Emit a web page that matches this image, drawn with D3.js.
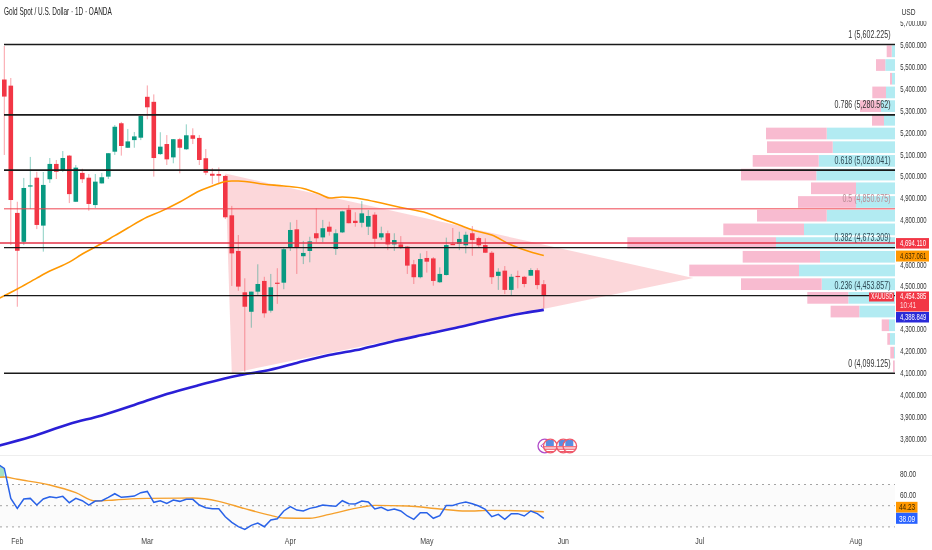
<!DOCTYPE html>
<html>
<head>
<meta charset="utf-8">
<script src="https://cdn.jsdelivr.net/npm/d3@7"></script>
<style>
  html, body { margin: 0; padding: 0; background: #fff; }
  svg { display: block; font-family: "Liberation Sans", Arial, sans-serif; filter: blur(0.3px); }
</style>
</head>
<body>
<svg id="chart" width="932" height="550"></svg>
<script>
// daily candles
const opens = [5442,5414,4832,4700,4955,4993,4774,4986,5056,5025,5094,4883,5015,4993,4868,4967,4998,5112,5242,5130,5165,5176,5363,5340,5101,5147,5086,5169,5123,5187,5175,5082,5011,5010,5001,4821,4658,4469,4380,4472,4521,4385,4513,4513,4673,4757,4634,4658,4739,4720,4769,4667,4743,4847,4796,4787,4769,4824,4720,4739,4688,4688,4678,4597,4538,4626,4624,4515,4548,4690,4690,4684,4739,4717,4685,4650,4544,4568,4480,4544,4540,4545,4570,4506];
const highs = [5595,5449,4883,4992,5088,5020,5019,5083,5074,5115,5097,5051,5034,5010,5010,5015,5106,5234,5248,5216,5202,5280,5415,5374,5201,5188,5170,5175,5237,5219,5188,5124,5037,5040,5005,4864,4731,4533,4472,4597,4540,4553,4579,4672,4789,4800,4704,4723,4853,4800,4792,4757,4842,4868,4835,4886,4845,4835,4769,4751,4739,4726,4681,4617,4647,4658,4630,4583,4719,4763,4746,4746,4772,4723,4716,4658,4579,4589,4553,4568,4544,4579,4579,4525];
const lows = [5097,4685,4403,4685,4850,4758,4655,4969,4987,5019,4877,4882,4969,4842,4854,4966,4987,5097,5094,5129,5130,5165,5260,4998,5097,5051,5059,5013,5120,5147,5051,5005,4964,4964,4804,4498,4476,4106,4307,4457,4353,4376,4416,4483,4658,4553,4598,4606,4698,4698,4728,4640,4740,4784,4769,4766,4731,4675,4708,4662,4658,4667,4553,4507,4533,4559,4499,4512,4546,4685,4662,4647,4636,4676,4649,4507,4480,4461,4452,4487,4492,4544,4483,4396];
const closes = [5364,4891,4659,4946,4958,4777,4960,5056,5020,5083,4918,5039,4986,4873,4975,4995,5105,5226,5138,5159,5182,5275,5315,5083,5135,5077,5169,5130,5187,5171,5074,5016,5002,5002,4812,4647,4495,4403,4472,4507,4373,4492,4508,4666,4754,4673,4649,4702,4716,4762,4746,4739,4839,4785,4786,4830,4818,4714,4739,4688,4708,4675,4591,4538,4621,4609,4521,4553,4685,4687,4713,4732,4708,4684,4650,4538,4563,4480,4540,4540,4507,4571,4502,4454.385];

// moving averages, [bar, price] samples
const orangeBars = [-1,2,5,7,10,12,14,17,19,22,24,27,30,32,33,34,35,36,40,43,46,49,50,52,55,58,61,65,67,70,72,75,78,81,83];
const orangeVals = [4438,4484,4534,4566,4607,4644,4676,4728,4763,4813,4838,4882,4932,4955,4966,4976,4978,4978,4963,4955,4944,4912,4900,4905,4896,4877,4857,4832,4809,4777,4754,4731,4685,4653,4637.061];
const blueBars = [-1,4,10,15,20,25,30,36,40,45,50,55,60,65,70,75,80,83];
const blueVals = [3766,3807,3867,3906,3954,4004,4045,4089,4109,4146,4182,4210,4246,4278,4310,4345,4374,4388.849];

// fib retracement
const fibPrices = [5602.225, 5280.562, 5028.041, 4850.675, 4673.309, 4453.857, 4099.125];
const fibLabels = ["1 (5,602.225)", "0.786 (5,280.562)", "0.618 (5,028.041)", "0.5 (4,850.675)", "0.382 (4,673.309)", "0.236 (4,453.857)", "0 (4,099.125)"];

// triangle drawing [bar, price]
const triangleBars = [34, 35, 106];
const trianglePrices = [5012, 4099, 4534];

// volume profile, top row first
const volUp = [3.3,9.7,3,9,14,11,68.3,62.3,76.3,78.7,39,39,68.3,91,119,75,96,73.3,46.7,35.7,6,5,1,0.3];
const volDown = [5,9.3,2,13.7,21,12,60.7,65.7,66,75.3,45,58,69.7,80.7,148.7,77.3,109.7,80.7,41,28.7,7.3,2.7,3.7,1.7];

// RSI pane, first value sits at bar -1
const rsiVals = [89,85.2,56.9,47.5,56.3,56.9,50.6,56.3,58.5,57.6,58.8,52.8,56.9,54.7,50.6,54.4,54.7,57.9,61.3,57.9,58.5,59.1,62.3,63.5,53.2,54.7,52.2,55.4,54.1,56,56,50.6,48.1,47.2,47.2,39.6,34.3,30.2,27.7,31.4,33.7,30.2,36.5,37.7,45,49.1,45.9,45,47.5,48.7,50.6,50,49.4,54.7,51.9,51.6,54.4,53.5,46.9,48.4,45.6,46.9,45,40.3,37.1,43.4,43.4,38.1,40.6,50.3,50.3,52.2,53.5,51.9,49.7,46.5,39.6,41.8,37.1,42.5,42.5,40.3,45,42.5,38.09];
const rsiMaBars = [-1,0,2,7,11,14,17,22,29,33,37,41,43,47,50,55,57,62,67,71,75,83];
const rsiMaVals = [76.7,77.1,74.9,69.5,62.3,54.4,55.4,56.9,57.2,54.1,47.2,40.9,38.4,38.1,41.8,48.7,50.3,49.7,46.9,45,45.6,44.23];
const rsiBands = [70, 50, 30];

// axes (4,700 and 4,400 sit behind the price tags)
const priceTicks = [5700,5600,5500,5400,5300,5200,5100,5000,4900,4800,4600,4500,4300,4200,4100,4000,3900,3800];
const rsiTicks = [80, 60];
const monthBars = [2, 22, 44, 65, 86, 107, 131];
const monthLabels = ["Feb", "Mar", "Apr", "May", "Jun", "Jul", "Aug"];
const eventBars = [84, 84, 86, 87];

const svg = d3.select("#chart");
const axisLeft = 896;

const x = d3.scaleLinear().domain([0, 131]).range([4.3, 855.8]);
const y = d3.scaleLinear().domain([3800, 5700]).range([438.6, 23.1]);
const yRsi = d3.scaleLinear().domain([30, 70]).range([526.9, 484.5]);
const volWidth = d3.scaleLinear().domain([0, 267.7]).range([0, 267.7]);

const green = "#089981", red = "#f23645";

// squeeze text horizontally, the reference is a narrow resample
function label(g, px, py, txt, opts = {}) {
  return g.append("text")
    .attr("transform", `translate(${px},${py}) scale(${opts.squeeze || 0.66},1)`)
    .attr("font-size", opts.size || 9)
    .attr("fill", opts.fill || "#333")
    .attr("text-anchor", opts.anchor || "start")
    .text(txt);
}

const defs = svg.append("defs");
defs.append("clipPath").attr("id", "pane")
  .append("rect").attr("x", 0).attr("y", 20).attr("width", axisLeft).attr("height", 435);

const main = svg.append("g").attr("clip-path", "url(#pane)");

// volume profile
const rowStep = (fibPrices[0] - fibPrices[6]) / volUp.length;
volUp.forEach((up, k) => {
  const top = y(fibPrices[0] - k * rowStep) + 1;
  const h = y(fibPrices[0] - (k + 1) * rowStep) - 1 - top;
  const wUp = volWidth(up), wDown = volWidth(volDown[k]);
  main.append("rect").attr("x", axisLeft - 1 - wUp).attr("y", top).attr("width", wUp).attr("height", h).attr("fill", "#b2ebf2");
  main.append("rect").attr("x", axisLeft - 1 - wUp - wDown).attr("y", top).attr("width", wDown).attr("height", h).attr("fill", "#f8bbd0");
});

// triangle
const triPts = triangleBars.map((b, i) => [x(b), y(trianglePrices[i])]);
main.append("path").attr("d", d3.line()(triPts) + "Z").attr("fill", "#f23645").attr("fill-opacity", 0.2);

// candles
main.selectAll(".wick").data(opens).join("line").attr("class", "wick")
  .attr("x1", (d, i) => x(i)).attr("x2", (d, i) => x(i))
  .attr("y1", (d, i) => y(highs[i])).attr("y2", (d, i) => y(lows[i]))
  .attr("stroke", (d, i) => closes[i] >= d ? green : red)
  .attr("stroke-opacity", 0.6)
  .attr("stroke-width", 0.8);
main.selectAll(".body").data(opens).join("rect").attr("class", "body")
  .attr("x", (d, i) => x(i) - 2.3).attr("width", 4.6)
  .attr("y", (d, i) => y(Math.max(d, closes[i])))
  .attr("height", (d, i) => Math.max(1.2, Math.abs(y(d) - y(closes[i]))))
  .attr("fill", (d, i) => closes[i] >= d ? green : red);

// moving averages
const maLine = d3.line().x(d => x(d[0])).y(d => y(d[1])).curve(d3.curveMonotoneX);
main.append("path").datum(blueBars.map((b, i) => [b, blueVals[i]])).attr("d", maLine)
  .attr("fill", "none").attr("stroke", "#2a1fd6").attr("stroke-width", 2.6);
main.append("path").datum(orangeBars.map((b, i) => [b, orangeVals[i]])).attr("d", maLine)
  .attr("fill", "none").attr("stroke", "#ff9800").attr("stroke-width", 1.6);

// fib lines
const fibWidths = [1.5, 1.8, 1.8, 1, 1.2, 1.2, 1.6];
fibPrices.forEach((p, i) => {
  svg.append("line").attr("x1", 4).attr("x2", axisLeft - 1).attr("y1", y(p)).attr("y2", y(p))
    .attr("stroke", i === 3 ? "#ef4350" : "#1a1a1a").attr("stroke-width", fibWidths[i]);
});
// horizontal ray at the red price tag
svg.append("line").attr("x1", 0).attr("x2", axisLeft - 1).attr("y1", y(4694.11)).attr("y2", y(4694.11))
  .attr("stroke", "#e5354a").attr("stroke-width", 1.6);

fibLabels.forEach((txt, i) => {
  label(svg, 890.5, y(fibPrices[i]) - 6.5, txt, {
    size: 10, squeeze: 0.71, anchor: "end",
    fill: i === 3 ? "#b98a93" : i === 2 || i === 4 || i === 5 ? "#2f4a55" : "#333"
  });
});

// event icons
const iconY = 446, iconR = 6.8;
eventBars.forEach((b, i) => {
  const cx = x(b) + (i === 0 ? -5.5 : 0);
  if (i === 0) {
    svg.append("circle").attr("cx", cx).attr("cy", iconY).attr("r", iconR)
      .attr("fill", "#fff").attr("stroke", "#b04cc9").attr("stroke-width", 1.3);
    svg.append("path").attr("d", `M${cx - 1},${iconY - 3}L${cx - 4},${iconY}L${cx - 1},${iconY + 2}`)
      .attr("fill", "none").attr("stroke", "#b04cc9");
    return;
  }
  defs.append("clipPath").attr("id", "flag" + i).append("circle").attr("cx", cx).attr("cy", iconY).attr("r", iconR);
  const g = svg.append("g");
  g.append("circle").attr("cx", cx).attr("cy", iconY).attr("r", iconR).attr("fill", "#fff");
  const f = g.append("g").attr("clip-path", `url(#flag${i})`);
  [0.8, 3.2, 5.6].forEach(dy => f.append("rect").attr("x", cx - 8).attr("y", iconY + dy - 0.6).attr("width", 16).attr("height", 1.2).attr("fill", "#ef5a6b"));
  f.append("rect").attr("x", cx - 4.5).attr("y", iconY - 6).attr("width", 8).attr("height", 6).attr("fill", "#5b8de0");
  g.append("circle").attr("cx", cx).attr("cy", iconY).attr("r", iconR).attr("fill", "none").attr("stroke", "#ef5a6b").attr("stroke-width", 1.3);
});

// pane divider
svg.append("line").attr("x1", 0).attr("x2", 932).attr("y1", 455.5).attr("y2", 455.5).attr("stroke", "#eeeeee");

// RSI pane
svg.append("rect").attr("x", 0).attr("y", yRsi(70)).attr("width", axisLeft - 1).attr("height", yRsi(30) - yRsi(70)).attr("fill", "#fbfbfb");
rsiBands.forEach(v => {
  svg.append("line").attr("x1", 0).attr("x2", axisLeft - 1).attr("y1", yRsi(v)).attr("y2", yRsi(v))
    .attr("stroke", "#9a9a9a").attr("stroke-width", 0.9).attr("stroke-dasharray", "2,4");
});
const rsiPts = rsiVals.map((v, i) => [i - 1, v]);
const rsiMaPts = rsiMaBars.map((b, i) => [b, rsiMaVals[i]]);
const rsiLine = d3.line().x(d => x(d[0])).y(d => yRsi(d[1]));
// fill between RSI and its average at the left edge
svg.append("path")
  .datum(rsiPts.slice(0, 2))
  .attr("d", d3.area().x(d => x(d[0])).y0(d => yRsi(d[1])).y1(yRsi(rsiMaVals[0])))
  .attr("fill", "#a5e0c4");
svg.append("path").datum(rsiMaPts).attr("d", rsiLine.curve(d3.curveMonotoneX))
  .attr("fill", "none").attr("stroke", "#f5a02c").attr("stroke-width", 1.4);
svg.append("path").datum(rsiPts).attr("d", rsiLine.curve(d3.curveLinear))
  .attr("fill", "none").attr("stroke", "#2962e8").attr("stroke-width", 1.5);

// axis labels
svg.append("rect").attr("x", axisLeft).attr("y", 21).attr("width", 36).attr("height", 434).attr("fill", "#fff");
priceTicks.forEach(p => {
  // 4,600 peeks out from under the orange tag, nudged clear of it
  label(svg, 900.3, y(p) + (p === 4600 ? 4.4 : 3.2), d3.format(",.3f")(p));
});
svg.append("rect").attr("x", axisLeft).attr("y", 0).attr("width", 36).attr("height", 21).attr("fill", "#fff");
label(svg, 901.5, 14.5, "USD", { size: 8.5, squeeze: 0.78 });
rsiTicks.forEach(v => {
  label(svg, 900, yRsi(v) + 3.2, d3.format(".2f")(v), { squeeze: 0.72 });
});
monthLabels.forEach((m, i) => {
  label(svg, x(monthBars[i]), 543.5, m, { anchor: "middle", squeeze: 0.78, fill: "#444" });
});

// tags on the price scale, pushed apart where they would collide
function tag(px, py, w, h, fill) {
  svg.append("rect").attr("x", px).attr("y", py).attr("width", w).attr("height", h).attr("fill", fill);
}
const lastY = y(4454.385);
tag(axisLeft, y(4694.11) - 5, 33, 10.5, red);
label(svg, 900, y(4694.11) + 3.2, "4,694.110", { fill: "#fff" });
tag(axisLeft, y(4637.061) - 5, 33, 11, "#ff9800");
label(svg, 900, y(4637.061) + 3.2, "4,637.061", { fill: "#3a2600" });
tag(869, lastY - 3, 25, 9, red);
label(svg, 871, lastY + 4, "XAUUSD", { fill: "#fff", size: 8.5, squeeze: 0.62 });
tag(axisLeft, lastY - 4, 33, 20, red);
label(svg, 900, lastY + 3.7, "4,454.385", { fill: "#fff" });
label(svg, 900, lastY + 12.7, "10:41", { fill: "#ffd7da", squeeze: 0.72 });
tag(axisLeft, lastY + 16.5, 33, 10.5, "#2a2ad8");
label(svg, 900, lastY + 24.8, "4,388.849", { fill: "#fff" });

const rsiTagY = yRsi(38.09);
tag(axisLeft, rsiTagY - 16.5, 21.5, 10.8, "#ff9800");
label(svg, 899, rsiTagY - 8, "44.23", { fill: "#3a2600", squeeze: 0.72 });
tag(axisLeft, rsiTagY - 5.5, 21.5, 11, "#2962ff");
label(svg, 899, rsiTagY + 3.2, "38.09", { fill: "#fff", squeeze: 0.72 });

// title
label(svg, 4, 14.5, "Gold Spot / U.S. Dollar · 1D · OANDA", { size: 10, squeeze: 0.645, fill: "#222" });
</script>
</body>
</html>
